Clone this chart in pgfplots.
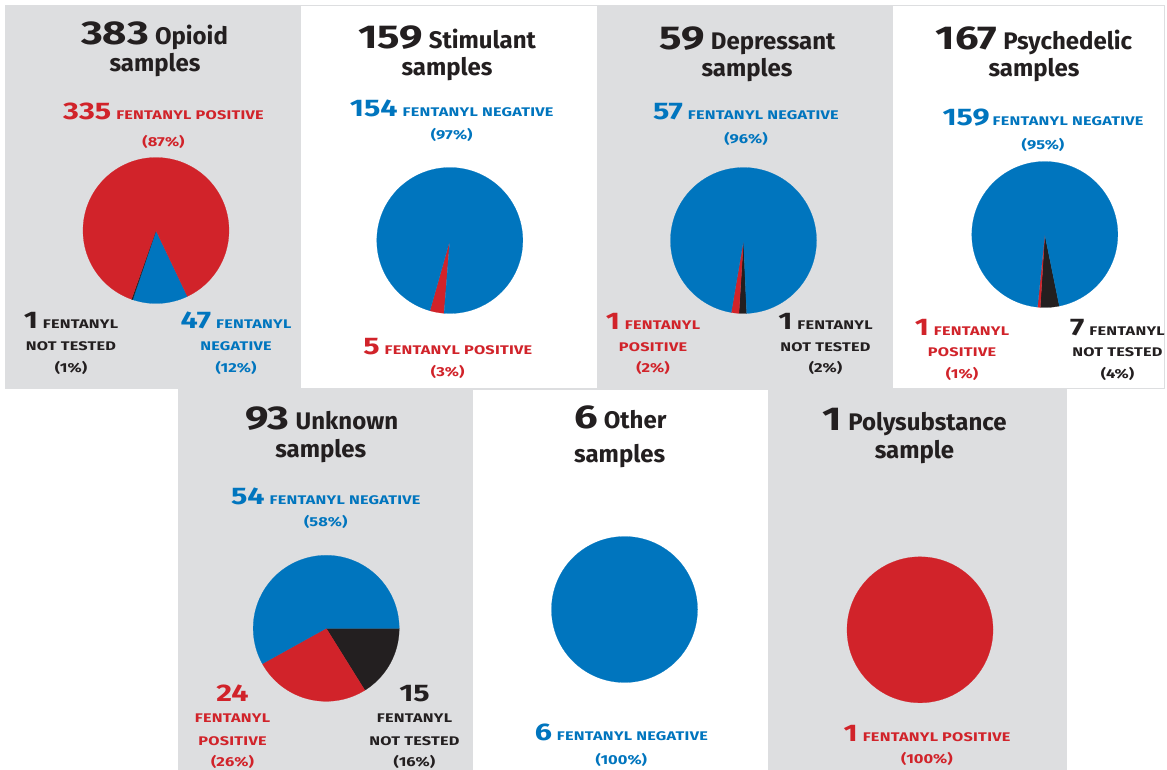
\documentclass[border=0pt]{standalone}
\usepackage{pgfplots}
\pgfplotsset{compat=1.18}
\usepackage{fontspec}
\setmainfont{Fira Sans}
\newfontfamily\widefont{Fira Sans}[FakeStretch=1.27]
\newfontfamily\labfont{Fira Sans}[FakeStretch=1.3, LetterSpace=2]
\definecolor{cgray}{RGB}{221,222,224}
\definecolor{cred}{RGB}{209,35,42}
\definecolor{cblue}{RGB}{0,117,190}
\definecolor{cblack}{RGB}{35,31,32}
\newcommand\bignum[1]{{\widefont\fontsize{33}{33}\selectfont\bfseries #1}}
\newcommand\ttl[1]{{\fontsize{24}{24}\selectfont\bfseries #1}}
\newcommand\lnum[1]{{\widefont\fontsize{24}{24}\selectfont\bfseries #1}}
\newcommand\lab[1]{{\labfont\fontsize{12.5}{12.5}\selectfont\bfseries #1}}
\newcommand\pct[1]{{\widefont\fontsize{13}{13}\selectfont\bfseries #1}}
\newcommand\startpie[2]{\pgfmathsetmacro\tmpang{#1}\xdef\curang{\tmpang}\xdef\pietotal{#2}}
\newcommand\slice[2]{%
  \pgfmathsetmacro\newang{\curang-#2/\pietotal*360}%
  \edef\doslice{\noexpand\addplot[fill=#1, draw=#1, line width=0.2pt, domain=\newang:\curang, samples=120] ({cos(x)},{sin(x)}) -- (axis cs:0,0) -- cycle;}%
  \doslice
  \xdef\curang{\newang}}
\pgfplotsset{pieaxis/.style={anchor=center, x=73pt, y=73pt, xmin=-1, xmax=1, ymin=-1, ymax=1, hide axis, clip=false}}
\begin{document}
\begin{tikzpicture}[x=1pt,y=1pt]
\path[use as bounding box] (0,0) rectangle (1167,-770);
% panels
\fill[cgray] (5,-5) rectangle (1165,-389);
\fill[white] (301,-6.5) rectangle (597,-387.5);
\fill[white] (893,-6.5) rectangle (1163.5,-387.5);
\fill[cgray] (178,-388) rectangle (1067,-770);
\fill[white] (473,-390) rectangle (768,-770);
% ---- Opioid
\begin{axis}[pieaxis, at={(156pt,-230.5pt)}]
\startpie{-64.5}{383}
\slice{cblue}{47}
\slice{cblack}{1}
\slice{cred}{335}
\end{axis}
% ---- Stimulant
\begin{axis}[pieaxis, at={(449.8pt,-240.5pt)}]
\startpie{-94.5}{159}
\slice{cred}{5}
\slice{cblue}{154}
\end{axis}
% ---- Depressant
\begin{axis}[pieaxis, at={(743.5pt,-240.5pt)}]
\startpie{-87.5}{59}
\slice{cblack}{1}
\slice{cred}{1}
\slice{cblue}{57}
\end{axis}
% ---- Psychedelic
\begin{axis}[pieaxis, at={(1044.8pt,-234.5pt)}]
\startpie{-78.5}{167}
\slice{cblack}{7}
\slice{cred}{1}
\slice{cblue}{159}
\end{axis}
% ---- Unknown
\begin{axis}[pieaxis, at={(326.2pt,-628.3pt)}]
\startpie{0}{93}
\slice{cblack}{15}
\slice{cred}{24}
\slice{cblue}{54}
\end{axis}
% ---- Other
\begin{axis}[pieaxis, at={(624.5pt,-609.5pt)}]
\startpie{0}{6}
\slice{cblue}{6}
\end{axis}
% ---- Polysubstance
\begin{axis}[pieaxis, at={(920pt,-629.8pt)}]
\startpie{0}{1}
\slice{cred}{1}
\end{axis}
% ---- texts: titles
\begin{scope}[every node/.style={anchor=base, inner sep=0pt, text=cblack}]
\node at (154.5,-45) {\bignum{383}\hspace{6pt}\ttl{Opioid}};
\node at (155,-72) {\ttl{samples}};
\node at (447,-49) {\bignum{159}\hspace{6pt}\ttl{Stimulant}};
\node at (447,-76) {\ttl{samples}};
\node at (747.5,-50) {\bignum{59}\hspace{6pt}\ttl{Depressant}};
\node at (747,-77) {\ttl{samples}};
\node at (1034,-50) {\bignum{167}\hspace{6pt}\ttl{Psychedelic}};
\node at (1034,-77) {\ttl{samples}};
\node at (321.7,-429) {\bignum{93}\hspace{6pt}\ttl{Unknown}};
\node at (320.8,-457) {\ttl{samples}};
\node at (620.3,-428) {\bignum{6}\hspace{6pt}\ttl{Other}};
\node at (619.7,-462) {\ttl{samples}};
\node at (914.8,-430) {\bignum{1}\hspace{6pt}\ttl{Polysubstance}};
\node at (914.5,-458) {\ttl{sample}};
% Opioid labels
\node[text=cred] at (163.5,-120) {\lnum{335}\hspace{5pt}\lab{FENTANYL POSITIVE}};
\node[text=cred] at (163.5,-146.5) {\pct{(87\%)}};
\node at (71,-328) {\lnum{1}\hspace{5pt}\lab{FENTANYL}};
\node at (71,-350) {\lab{NOT TESTED}};
\node at (71,-372) {\pct{(1\%)}};
\node[text=cblue] at (236,-328) {\lnum{47}\hspace{5pt}\lab{FENTANYL}};
\node[text=cblue] at (236,-350) {\lab{NEGATIVE}};
\node[text=cblue] at (236,-372) {\pct{(12\%)}};
% Stimulant labels
\node[text=cblue] at (451.7,-116.5) {\lnum{154}\hspace{5pt}\lab{FENTANYL NEGATIVE}};
\node[text=cblue] at (451.7,-140) {\pct{(97\%)}};
\node[text=cred] at (447.7,-354.3) {\lnum{5}\hspace{5pt}\lab{FENTANYL POSITIVE}};
\node[text=cred] at (447.7,-376) {\pct{(3\%)}};
% Depressant labels
\node[text=cblue] at (746,-120) {\lnum{57}\hspace{5pt}\lab{FENTANYL NEGATIVE}};
\node[text=cblue] at (746,-143.3) {\pct{(96\%)}};
\node[text=cred] at (653,-329.3) {\lnum{1}\hspace{5pt}\lab{FENTANYL}};
\node[text=cred] at (653,-351) {\lab{POSITIVE}};
\node[text=cred] at (653,-372.7) {\pct{(2\%)}};
\node at (825.5,-329.3) {\lnum{1}\hspace{5pt}\lab{FENTANYL}};
\node at (825.5,-351) {\lab{NOT TESTED}};
\node at (825.5,-372.7) {\pct{(2\%)}};
% Psychedelic labels
\node[text=cblue] at (1043,-125.7) {\lnum{159}\hspace{3pt}\lab{FENTANYL NEGATIVE}};
\node[text=cblue] at (1043,-150) {\pct{(95\%)}};
\node[text=cred] at (962,-335) {\lnum{1}\hspace{5pt}\lab{FENTANYL}};
\node[text=cred] at (962,-356.7) {\lab{POSITIVE}};
\node[text=cred] at (962,-378.3) {\pct{(1\%)}};
\node at (1117.5,-335) {\lnum{7}\hspace{5pt}\lab{FENTANYL}};
\node at (1117.5,-356.7) {\lab{NOT TESTED}};
\node at (1117.5,-378.3) {\pct{(4\%)}};
% Unknown labels
\node[text=cblue] at (325.8,-504) {\lnum{54}\hspace{5pt}\lab{FENTANYL NEGATIVE}};
\node[text=cblue] at (325.8,-526.7) {\pct{(58\%)}};
\node[text=cred] at (232.5,-701) {\lnum{24}};
\node[text=cred] at (232.5,-722.3) {\lab{FENTANYL}};
\node[text=cred] at (232.5,-745) {\lab{POSITIVE}};
\node[text=cred] at (232.5,-766) {\pct{(26\%)}};
\node at (414.5,-701) {\lnum{15}};
\node at (414.5,-722.3) {\lab{FENTANYL}};
\node at (414.5,-745) {\lab{NOT TESTED}};
\node at (414.5,-766) {\pct{(16\%)}};
% Other labels
\node[text=cblue] at (621.3,-740) {\lnum{6}\hspace{5pt}\lab{FENTANYL NEGATIVE}};
\node[text=cblue] at (621.3,-764.3) {\pct{(100\%)}};
% Poly labels
\node[text=cred] at (927,-741) {\lnum{1}\hspace{5pt}\lab{FENTANYL POSITIVE}};
\node[text=cred] at (927,-763.3) {\pct{(100\%)}};
\end{scope}
\end{tikzpicture}
\end{document}
